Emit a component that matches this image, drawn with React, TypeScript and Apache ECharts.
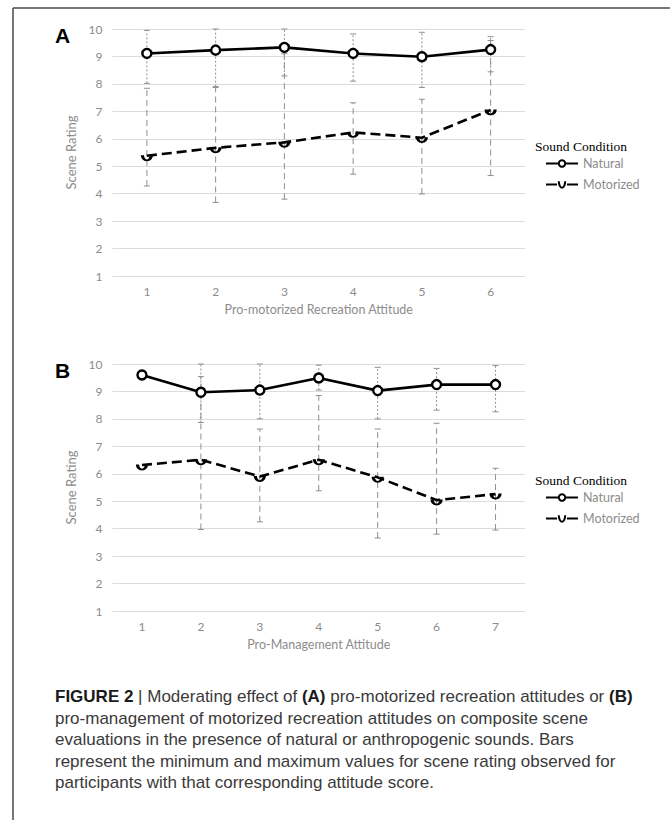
import React, { useEffect, useRef } from "react";
import * as echarts from "echarts";

const A_CATS = ["1", "2", "3", "4", "5", "6"];
const A_NATURAL = [9.11, 9.23, 9.33, 9.11, 8.99, 9.25];
const A_NATURAL_MIN = [8.02, 7.9, 8.29, 8.1, 7.87, 8.44];
const A_NATURAL_MAX = [9.95, 10, 10, 9.82, 9.88, 9.72];
const A_MOTOR = [5.38, 5.67, 5.87, 6.23, 6.04, 7.05];
const A_MOTOR_MIN = [4.28, 3.68, 3.8, 4.71, 3.99, 4.66];
const A_MOTOR_MAX = [7.84, 7.87, 9.1, 7.31, 7.44, 9.58];

const B_CATS = ["1", "2", "3", "4", "5", "6", "7"];
const B_NATURAL = [9.6, 8.97, 9.05, 9.49, 9.03, 9.25, 9.25];
const B_NATURAL_MIN = [null, 7.87, 8.0, 9.05, 8.0, 8.32, 8.26];
const B_NATURAL_MAX = [null, 10, 10, 9.96, 9.88, 9.84, 9.94];
const B_MOTOR = [6.32, 6.51, 5.9, 6.51, 5.87, 5.04, 5.26];
const B_MOTOR_MIN = [null, 3.97, 4.25, 5.38, 3.66, 3.8, 3.95];
const B_MOTOR_MAX = [null, 9.54, 7.63, 8.85, 7.63, 7.84, 6.2];

const Y_TICKS = ["1", "2", "3", "4", "5", "6", "7", "8", "9", "10"];

const GRAY = "#8c8c8c";
const AXIS_FONT = "Lato";
const U_SYMBOL = "path://M0,0 A5,5 0 0,0 10,0";

function rangeData(mins: (number | null)[], maxs: (number | null)[]) {
  const out: number[][] = [];
  mins.forEach((lo, i) => {
    const hi = maxs[i];
    if (lo != null && hi != null) out.push([i, lo, hi]);
  });
  return out;
}

function errorBarSeries(name: string, idx: number, data: number[][], dash: number[], color: string) {
  return {
    type: "custom",
    name,
    xAxisIndex: idx,
    yAxisIndex: idx,
    z: 1,
    silent: true,
    encode: { x: 0, y: [1, 2] },
    data,
    renderItem: (params: any, api: any) => {
      const x = api.value(0);
      const lo = api.coord([x, api.value(1)]);
      const hi = api.coord([x, api.value(2)]);
      const cw = 3;
      return {
        type: "group",
        children: [
          {
            type: "line",
            shape: { x1: lo[0], y1: lo[1], x2: hi[0], y2: hi[1] },
            style: { stroke: color, lineWidth: 1, lineDash: dash },
          },
          {
            type: "line",
            shape: { x1: lo[0] - cw, y1: lo[1], x2: lo[0] + cw, y2: lo[1] },
            style: { stroke: color, lineWidth: 1 },
          },
          {
            type: "line",
            shape: { x1: hi[0] - cw, y1: hi[1], x2: hi[0] + cw, y2: hi[1] },
            style: { stroke: color, lineWidth: 1 },
          },
        ],
      };
    },
  };
}

function lineSeries(name: string, idx: number, data: number[], motor: boolean) {
  return {
    type: "line",
    name,
    xAxisIndex: idx,
    yAxisIndex: idx,
    z: 3,
    data,
    symbol: motor ? U_SYMBOL : "circle",
    symbolSize: motor ? [9, 5] : 9,
    symbolOffset: motor ? [0, 2] : [0, 0],
    lineStyle: { color: "#000", width: 2.6, type: motor ? [10, 5] : "solid" },
    itemStyle: motor
      ? { color: "rgba(0,0,0,0)", borderColor: "#000", borderWidth: 2.4 }
      : { color: "#fff", borderColor: "#000", borderWidth: 2.4 },
    emphasis: { disabled: true },
  };
}

function makeAxes(top: number, cats: string[], name: string, idx: number) {
  const grid = { left: 112.5, right: 145, top, height: 247, containLabel: false };
  const xAxis = {
    type: "category",
    gridIndex: idx,
    data: cats,
    boundaryGap: true,
    axisLine: { show: false },
    axisTick: { show: false },
    axisLabel: { color: GRAY, fontFamily: AXIS_FONT, fontSize: 12, margin: 9 },
    name,
    nameLocation: "middle",
    nameGap: 27,
    nameTextStyle: { color: GRAY, fontFamily: AXIS_FONT, fontSize: 12.5 },
  };
  const yAxis = {
    type: "value",
    gridIndex: idx,
    min: 1,
    max: 10,
    interval: 1,
    axisLine: { show: false },
    axisTick: { show: false },
    axisLabel: {
      color: GRAY,
      fontFamily: AXIS_FONT,
      fontSize: 12,
      margin: 10,
      formatter: (v: number) => Y_TICKS[Math.round(v) - 1] ?? String(v),
    },
    splitLine: { show: true, lineStyle: { color: "#dcdcdc", width: 1.2 } },
    name: "Scene Rating",
    nameLocation: "middle",
    nameRotate: 90,
    nameGap: 25,
    nameTextStyle: { color: GRAY, fontFamily: AXIS_FONT, fontSize: 13 },
  };
  return { grid, xAxis, yAxis };
}

export default function App() {
  const ref = useRef<HTMLDivElement>(null);
  useEffect(() => {
    document.body.style.margin = "0";
    if (!ref.current) return;
    const chart = echarts.init(ref.current, null, { renderer: "svg" });
    const a = makeAxes(29, A_CATS, "Pro-motorized Recreation Attitude", 0);
    const b = makeAxes(364, B_CATS, "Pro-Management Attitude", 1);

    const legendBase = {
      orient: "vertical",
      left: 545,
      padding: 0,
      itemWidth: 32,
      itemHeight: 8,
      itemGap: 8,
      textStyle: { color: GRAY, fontFamily: AXIS_FONT, fontSize: 12.5 },
      selectedMode: false,
      data: [
        { name: "Natural" },
        { name: "Motorized", lineStyle: { type: [11, 10] } },
      ],
    };

    const caption =
      "{b|FIGURE 2} | Moderating effect of {b|(A)} pro-motorized recreation attitudes or {b|(B)}\n" +
      "pro-management of motorized recreation attitudes on composite scene\n" +
      "evaluations in the presence of natural or anthropogenic sounds. Bars\n" +
      "represent the minimum and maximum values for scene rating observed for\n" +
      "participants with that corresponding attitude score.";

    chart.setOption({
      animation: false,
      backgroundColor: "#fff",
      grid: [a.grid, b.grid],
      xAxis: [a.xAxis, b.xAxis],
      yAxis: [a.yAxis, b.yAxis],
      legend: [
        { ...legendBase, top: 157 },
        { ...legendBase, top: 491 },
      ],
      series: [
        errorBarSeries("Natural range A", 0, rangeData(A_NATURAL_MIN, A_NATURAL_MAX), [2, 2], "#8f8f8f"),
        errorBarSeries("Motorized range A", 0, rangeData(A_MOTOR_MIN, A_MOTOR_MAX), [6, 4], "#8f8f8f"),
        lineSeries("Natural", 0, A_NATURAL, false),
        lineSeries("Motorized", 0, A_MOTOR, true),
        errorBarSeries("Natural range B", 1, rangeData(B_NATURAL_MIN, B_NATURAL_MAX), [2, 2], "#8f8f8f"),
        errorBarSeries("Motorized range B", 1, rangeData(B_MOTOR_MIN, B_MOTOR_MAX), [6, 4], "#8f8f8f"),
        lineSeries("Natural", 1, B_NATURAL, false),
        lineSeries("Motorized", 1, B_MOTOR, true),
      ],
      graphic: [
        { type: "line", shape: { x1: 13, y1: 8, x2: 670, y2: 8 }, style: { stroke: "#4a4a4a", lineWidth: 1.5 } },
        { type: "line", shape: { x1: 13, y1: 8, x2: 13, y2: 820 }, style: { stroke: "#4a4a4a", lineWidth: 1.5 } },
        {
          type: "text", x: 55, y: 35,
          style: { text: "A", font: "bold 21px 'Liberation Sans'", fill: "#000", verticalAlign: "middle" },
        },
        {
          type: "text", x: 55, y: 370,
          style: { text: "B", font: "bold 21px 'Liberation Sans'", fill: "#000", verticalAlign: "middle" },
        },
        {
          type: "text", x: 535, y: 146,
          style: { text: "Sound Condition", font: "13.5px 'Liberation Serif'", fill: "#000", verticalAlign: "middle" },
        },
        {
          type: "text", x: 535, y: 480,
          style: { text: "Sound Condition", font: "13.5px 'Liberation Serif'", fill: "#000", verticalAlign: "middle" },
        },
        {
          type: "text", x: 55, y: 686,
          style: {
            text: caption,
            fontFamily: "'Liberation Sans'",
            fontSize: 17,
            lineHeight: 21.5,
            fill: "#3a3a3a",
            verticalAlign: "top",
            rich: {
              b: { fontFamily: "'Liberation Sans'", fontSize: 17, fontWeight: "bold", lineHeight: 21.5, fill: "#1a1a1a" },
            },
          },
        },
      ],
    });
    return () => chart.dispose();
  }, []);
  return <div ref={ref} style={{ width: 670, height: 820 }} />;
}
